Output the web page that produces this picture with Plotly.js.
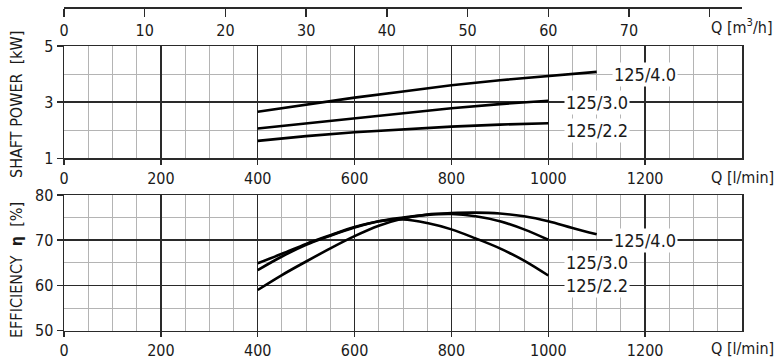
<!DOCTYPE html>
<html>
<head>
<meta charset="utf-8">
<script src="https://cdn.plot.ly/plotly-3.0.1.min.js"></script>
<style>
html,body{margin:0;padding:0;background:#fff;}
#chart{width:780px;height:362px;}
</style>
</head>
<body>
<div id="chart"></div>
<script>
// ---- data ----
const qPower40 = [400, 500, 600, 700, 800, 900, 1000, 1100];
const power40 = [2.66, 2.92, 3.16, 3.38, 3.60, 3.78, 3.93, 4.08];
const qPower30 = [400, 500, 600, 700, 800, 900, 1000];
const power30 = [2.06, 2.24, 2.42, 2.60, 2.78, 2.93, 3.05];
const qPower22 = [400, 500, 600, 700, 800, 900, 1000];
const power22 = [1.62, 1.79, 1.93, 2.04, 2.13, 2.20, 2.25];

const qEff40 = [400, 450, 500, 550, 600, 650, 700, 750, 800, 850, 900, 950, 1000, 1050, 1100];
const eff40 = [59.0, 62.3, 65.3, 68.2, 70.9, 73.2, 74.8, 75.7, 76.0, 76.1, 75.9, 75.3, 74.2, 72.7, 71.3];
const qEff30 = [400, 450, 500, 550, 600, 650, 700, 750, 800, 850, 900, 950, 1000];
const eff30 = [63.4, 66.4, 69.0, 71.0, 72.8, 74.2, 75.0, 75.6, 75.8, 75.3, 74.2, 72.4, 70.1];
const qEff22 = [400, 450, 500, 550, 600, 650, 700, 750, 800, 850, 900, 950, 1000];
const eff22 = [64.9, 67.0, 69.2, 71.1, 72.9, 74.2, 74.6, 73.8, 72.4, 70.4, 68.2, 65.5, 62.2];

const modelLabels = ['125/4.0', '125/3.0', '125/2.2'];
const qTicks = [0, 200, 400, 600, 800, 1000, 1200];
const m3hTicks = [0, 10, 20, 30, 40, 50, 60, 70];
const powerTicks = [1, 3, 5];
const effTicks = [50, 60, 70, 80];

// label anchor positions (data coords)
const powerLabelQ = [1200, 1100, 1100];
const powerLabelY = [4, 3, 2];
const effLabelQ = [1200, 1100, 1100];
const effLabelY = [70, 65, 60];

// ---- styling ----
const FONT = 'Liberation Sans Narrow, Arial Narrow, DejaVu Sans Condensed, sans-serif';
const TXT = '#1a1a1a';
const MAJ = '#2a2a2a';
const MIN = '#b4b4b4';
const lineStyle = {color: '#000', width: 2.6};

const traces = [
  {x: qPower40, y: power40, xaxis: 'x', yaxis: 'y', mode: 'lines', line: lineStyle, name: modelLabels[0]},
  {x: qPower30, y: power30, xaxis: 'x', yaxis: 'y', mode: 'lines', line: lineStyle, name: modelLabels[1]},
  {x: qPower22, y: power22, xaxis: 'x', yaxis: 'y', mode: 'lines', line: lineStyle, name: modelLabels[2]},
  {x: qEff40, y: eff40, xaxis: 'x2', yaxis: 'y2', mode: 'lines', line: Object.assign({shape: 'spline'}, lineStyle), name: modelLabels[0]},
  {x: qEff30, y: eff30, xaxis: 'x2', yaxis: 'y2', mode: 'lines', line: Object.assign({shape: 'spline'}, lineStyle), name: modelLabels[1]},
  {x: qEff22, y: eff22, xaxis: 'x2', yaxis: 'y2', mode: 'lines', line: Object.assign({shape: 'spline'}, lineStyle), name: modelLabels[2]}
];

const H = 362, W = 780, ML = 64, MR = 38;
const PW = W - ML - MR;
function py(px) { return (H - px) / H; }
function px(p) { return (p - ML) / PW; }

function qAxis(anchor) {
  return {
    anchor: anchor,
    range: [0, 1400],
    tickvals: qTicks,
    ticks: 'outside', ticklen: 5, tickwidth: 1.5, tickcolor: MAJ,
    showgrid: true, gridcolor: MAJ, gridwidth: 1.5,
    minor: {dtick: 50, tick0: 0, showgrid: true, gridcolor: MIN, gridwidth: 1, ticks: ''},
    showline: true, mirror: true, linecolor: MAJ, linewidth: 1.5,
    zeroline: false, fixedrange: true,
    tickfont: {family: FONT, size: 16, color: TXT}
  };
}
function valAxis(anchor, domain, range, ticks, minorStep) {
  return {
    anchor: anchor, domain: domain, range: range,
    tickvals: ticks,
    ticks: 'outside', ticklen: 6, tickwidth: 1.5, tickcolor: MAJ,
    showgrid: true, gridcolor: MAJ, gridwidth: 1.5,
    minor: {dtick: minorStep, tick0: range[0], showgrid: true, gridcolor: MIN, gridwidth: 1, ticks: ''},
    showline: true, mirror: true, linecolor: MAJ, linewidth: 1.5,
    zeroline: false, fixedrange: true,
    tickfont: {family: FONT, size: 16, color: TXT}
  };
}

const annotations = [];
for (let i = 0; i < modelLabels.length; i++) {
  annotations.push({x: powerLabelQ[i], y: powerLabelY[i], xref: 'x', yref: 'y', text: modelLabels[i],
    showarrow: false, bgcolor: '#fff', borderpad: 1, font: {family: FONT, size: 18, color: TXT}});
  annotations.push({x: effLabelQ[i], y: effLabelY[i], xref: 'x2', yref: 'y2', text: modelLabels[i],
    showarrow: false, bgcolor: '#fff', borderpad: 1, font: {family: FONT, size: 18, color: TXT}});
}
// axis unit labels
annotations.push({xref: 'paper', yref: 'paper', x: px(742), y: py(26), xanchor: 'center', yanchor: 'middle',
  text: 'Q [m<sup>3</sup>/h]', showarrow: false, font: {family: FONT, size: 16, color: TXT}});
annotations.push({xref: 'paper', yref: 'paper', x: px(742), y: py(177), xanchor: 'center', yanchor: 'middle',
  text: 'Q [l/min]', showarrow: false, font: {family: FONT, size: 16, color: TXT}});
annotations.push({xref: 'paper', yref: 'paper', x: px(742), y: py(348), xanchor: 'center', yanchor: 'middle',
  text: 'Q [l/min]', showarrow: false, font: {family: FONT, size: 16, color: TXT}});
// y titles
annotations.push({xref: 'paper', yref: 'paper', x: px(16), y: py(105), xanchor: 'center', yanchor: 'middle',
  text: 'SHAFT POWER  [kW]', textangle: -90, showarrow: false, font: {family: FONT, size: 16, color: TXT}});
annotations.push({xref: 'paper', yref: 'paper', x: px(16), y: py(270), xanchor: 'center', yanchor: 'middle',
  text: 'EFFICIENCY  <b>η</b>  [%]', textangle: -90, showarrow: false, font: {family: FONT, size: 16, color: TXT}});

const layout = {
  width: W, height: H,
  margin: {l: ML, r: MR, t: 0, b: 0},
  paper_bgcolor: '#fff', plot_bgcolor: '#fff',
  showlegend: false,
  font: {family: FONT, color: TXT},
  xaxis: qAxis('y'),
  yaxis: valAxis('x', [py(158.3), py(46)], [1, 5], powerTicks, 1),
  xaxis2: qAxis('y2'),
  yaxis2: valAxis('x2', [py(330.7), py(195)], [50, 80], effTicks, 5),
  xaxis3: {
    overlaying: 'x', anchor: 'free', position: py(7), side: 'bottom',
    range: [0, 1400 * 60 / 1000],
    tickvals: m3hTicks,
    ticks: 'outside', ticklen: 8, tickwidth: 1.5, tickcolor: MAJ,
    minor: {dtick: 10, tick0: 0, ticks: 'outside', ticklen: 8, tickwidth: 1.5, tickcolor: MAJ, showgrid: false},
    showgrid: false, zeroline: false, showline: true, linecolor: MAJ, linewidth: 1.5,
    fixedrange: true,
    tickfont: {family: FONT, size: 16, color: TXT}
  },
  annotations: annotations
};

// invisible trace to activate the m3/h axis
traces.push({x: [0, 84], y: [1, 1], xaxis: 'x3', yaxis: 'y', mode: 'lines', line: {width: 0}, hoverinfo: 'skip', showlegend: false});

Plotly.newPlot('chart', traces, layout, {displayModeBar: false, staticPlot: true});
</script>
</body>
</html>
